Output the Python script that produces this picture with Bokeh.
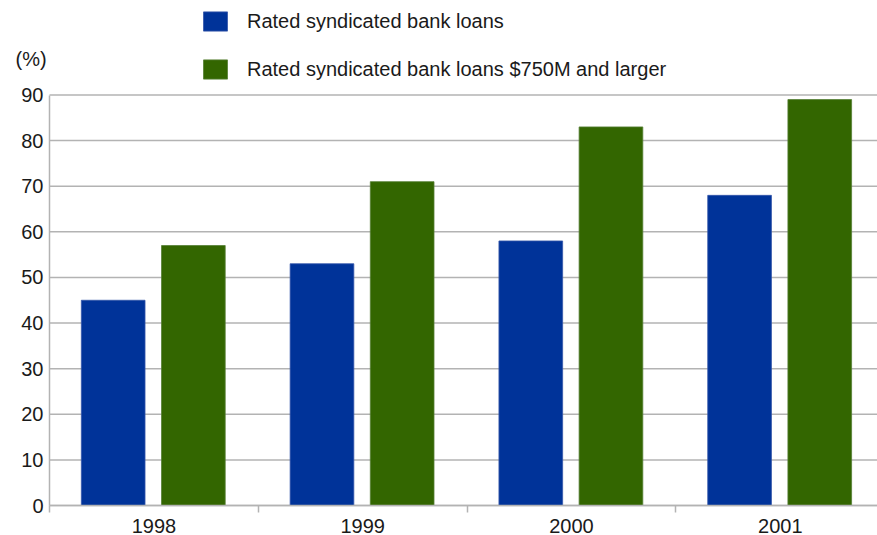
from bokeh.plotting import figure
from bokeh.models import Range1d, FixedTicker, Legend, LegendItem, Label, ColumnDataSource
from bokeh.embed import file_html
from bokeh.resources import INLINE

categories = ["1998", "1999", "2000", "2001"]
all_loans = [45, 53, 58, 68]
large_loans = [57, 71, 83, 89]
series_names = ["Rated syndicated bank loans", "Rated syndicated bank loans $750M and larger"]
y_ticks = [0, 10, 20, 30, 40, 50, 60, 70, 80, 90]

BLUE = "#003399"
GREEN = "#336600"
GRID = "#b3b3b3"
TXT = "#1a1a1a"
FONT = "Liberation Sans"

idx = list(range(len(categories)))
src = ColumnDataSource(dict(
    xb=[i + 0.305 for i in idx],
    xg=[i + 0.689 for i in idx],
    blue=all_loans,
    green=large_loans,
))

# frame covers the whole canvas; both axes are pinned to data 0
cat_px = 208.8
x_start = -49 / cat_px
x_end = 828 / cat_px
unit_px = 410.5 / 90
y_start = -30 / unit_px
y_top = 505 / unit_px
p = figure(width=877, height=535, output_backend="svg", toolbar_location=None,
           x_range=Range1d(x_start, x_end), y_range=Range1d(y_start, y_top),
           min_border_left=0, min_border_right=0, min_border_top=0, min_border_bottom=0)
p.outline_line_color = None
p.background_fill_color = "white"
p.border_fill_color = "white"

# horizontal grid lines spanning the category area only
p.segment(x0=0, x1=x_end, y0=y_ticks, y1=y_ticks, line_color=GRID, line_width=1.5)

rb = p.vbar(x="xb", top="blue", width=0.305, source=src, fill_color=BLUE, line_color="#3355aa", line_width=0.8)
rg = p.vbar(x="xg", top="green", width=0.305, source=src, fill_color=GREEN, line_color="#557f33", line_width=0.8)

# x axis
xa = p.xaxis[0]
xa.fixed_location = 0
xa.bounds = (0, x_end)
xa.ticker = FixedTicker(ticks=[i + 0.5 for i in idx], minor_ticks=list(range(len(categories) + 1)))
xa.major_label_overrides = {i + 0.5: c for i, c in zip(idx, categories)}
xa.major_tick_out = 0
xa.major_tick_in = 0
xa.minor_tick_out = 7
xa.minor_tick_in = 0
xa.minor_tick_line_color = GRID
xa.minor_tick_line_width = 1.5
xa.axis_line_color = GRID
xa.axis_line_width = 1.5
xa.major_label_standoff = 6
xa.major_label_text_font = FONT
xa.major_label_text_font_size = "20px"
xa.major_label_text_color = TXT

ya = p.yaxis[0]
ya.fixed_location = 0
ya.ticker = FixedTicker(ticks=y_ticks, minor_ticks=[])
ya.bounds = (0, 90)
ya.major_tick_out = 0
ya.major_tick_in = 0
ya.axis_line_color = GRID
ya.axis_line_width = 1.5
ya.major_label_standoff = 6
ya.major_label_text_font = FONT
ya.major_label_text_font_size = "20px"
ya.major_label_text_color = TXT

p.xgrid.visible = False
p.ygrid.visible = False

legend = Legend(items=[LegendItem(label=series_names[0], renderers=[rb]),
                       LegendItem(label=series_names[1], renderers=[rg])],
                location=(200, 454), orientation="vertical",
                glyph_width=30, glyph_height=24, label_height=24, spacing=24,
                padding=0, margin=0, label_standoff=17,
                border_line_color=None, background_fill_alpha=0,
                label_text_font=FONT, label_text_font_size="20px", label_text_color=TXT)
p.add_layout(legend, "center")

pct = Label(x=-34 / cat_px, y=97.9, x_units="data", y_units="data", text="(%)",
            text_font=FONT, text_font_size="20px", text_color=TXT, text_baseline="middle")
p.add_layout(pct)

open("out.html", "w").write(file_html(p, INLINE))
